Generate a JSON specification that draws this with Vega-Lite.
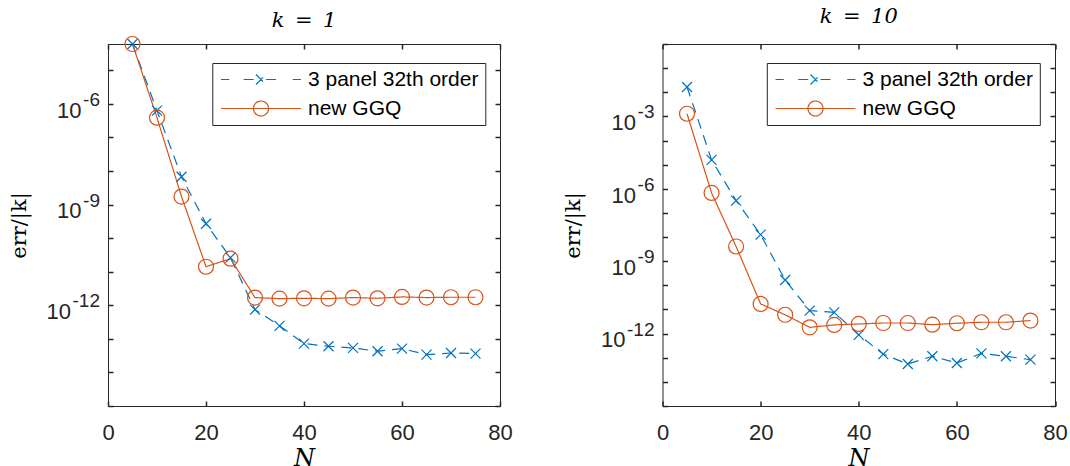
{
  "$schema": "https://vega.github.io/schema/vega-lite/v6.json",
  "background": "white",
  "padding": {"left": 7, "top": 5, "right": 0, "bottom": 0},
  "datasets": {
    "d": [
      {"p": "k1", "s": "3 panel 32th order", "N": 5, "err": 6.1e-5},
      {"p": "k1", "s": "3 panel 32th order", "N": 10, "err": 6.31e-7},
      {"p": "k1", "s": "3 panel 32th order", "N": 15, "err": 6.76e-9},
      {"p": "k1", "s": "3 panel 32th order", "N": 20, "err": 2.69e-10},
      {"p": "k1", "s": "3 panel 32th order", "N": 25, "err": 2.63e-11},
      {"p": "k1", "s": "3 panel 32th order", "N": 30, "err": 7.41e-13},
      {"p": "k1", "s": "3 panel 32th order", "N": 35, "err": 2.45e-13},
      {"p": "k1", "s": "3 panel 32th order", "N": 40, "err": 7.24e-14},
      {"p": "k1", "s": "3 panel 32th order", "N": 45, "err": 6.03e-14},
      {"p": "k1", "s": "3 panel 32th order", "N": 50, "err": 5.37e-14},
      {"p": "k1", "s": "3 panel 32th order", "N": 55, "err": 4.27e-14},
      {"p": "k1", "s": "3 panel 32th order", "N": 60, "err": 5.13e-14},
      {"p": "k1", "s": "3 panel 32th order", "N": 65, "err": 3.39e-14},
      {"p": "k1", "s": "3 panel 32th order", "N": 70, "err": 3.8e-14},
      {"p": "k1", "s": "3 panel 32th order", "N": 75, "err": 3.63e-14},
      {"p": "k1", "s": "new GGQ", "N": 5, "err": 6.1e-5},
      {"p": "k1", "s": "new GGQ", "N": 10, "err": 3.89e-7},
      {"p": "k1", "s": "new GGQ", "N": 15, "err": 1.74e-9},
      {"p": "k1", "s": "new GGQ", "N": 20, "err": 1.41e-11},
      {"p": "k1", "s": "new GGQ", "N": 25, "err": 2.45e-11},
      {"p": "k1", "s": "new GGQ", "N": 30, "err": 1.7e-12},
      {"p": "k1", "s": "new GGQ", "N": 35, "err": 1.58e-12},
      {"p": "k1", "s": "new GGQ", "N": 40, "err": 1.62e-12},
      {"p": "k1", "s": "new GGQ", "N": 45, "err": 1.58e-12},
      {"p": "k1", "s": "new GGQ", "N": 50, "err": 1.7e-12},
      {"p": "k1", "s": "new GGQ", "N": 55, "err": 1.62e-12},
      {"p": "k1", "s": "new GGQ", "N": 60, "err": 1.78e-12},
      {"p": "k1", "s": "new GGQ", "N": 65, "err": 1.7e-12},
      {"p": "k1", "s": "new GGQ", "N": 70, "err": 1.74e-12},
      {"p": "k1", "s": "new GGQ", "N": 75, "err": 1.74e-12},
      {"p": "k10", "s": "3 panel 32th order", "N": 5, "err": 1.66e-2},
      {"p": "k10", "s": "3 panel 32th order", "N": 10, "err": 1.58e-5},
      {"p": "k10", "s": "3 panel 32th order", "N": 15, "err": 3.24e-7},
      {"p": "k10", "s": "3 panel 32th order", "N": 20, "err": 1.26e-8},
      {"p": "k10", "s": "3 panel 32th order", "N": 25, "err": 1.66e-10},
      {"p": "k10", "s": "3 panel 32th order", "N": 30, "err": 8.91e-12},
      {"p": "k10", "s": "3 panel 32th order", "N": 35, "err": 7.59e-12},
      {"p": "k10", "s": "3 panel 32th order", "N": 40, "err": 8.91e-13},
      {"p": "k10", "s": "3 panel 32th order", "N": 45, "err": 1.41e-13},
      {"p": "k10", "s": "3 panel 32th order", "N": 50, "err": 5.5e-14},
      {"p": "k10", "s": "3 panel 32th order", "N": 55, "err": 1.15e-13},
      {"p": "k10", "s": "3 panel 32th order", "N": 60, "err": 6.03e-14},
      {"p": "k10", "s": "3 panel 32th order", "N": 65, "err": 1.51e-13},
      {"p": "k10", "s": "3 panel 32th order", "N": 70, "err": 1.15e-13},
      {"p": "k10", "s": "3 panel 32th order", "N": 75, "err": 8.32e-14},
      {"p": "k10", "s": "new GGQ", "N": 5, "err": 1.29e-3},
      {"p": "k10", "s": "new GGQ", "N": 10, "err": 6.76e-7},
      {"p": "k10", "s": "new GGQ", "N": 15, "err": 4.07e-9},
      {"p": "k10", "s": "new GGQ", "N": 20, "err": 1.7e-11},
      {"p": "k10", "s": "new GGQ", "N": 25, "err": 6.03e-12},
      {"p": "k10", "s": "new GGQ", "N": 30, "err": 1.82e-12},
      {"p": "k10", "s": "new GGQ", "N": 35, "err": 2.29e-12},
      {"p": "k10", "s": "new GGQ", "N": 40, "err": 2.51e-12},
      {"p": "k10", "s": "new GGQ", "N": 45, "err": 2.75e-12},
      {"p": "k10", "s": "new GGQ", "N": 50, "err": 2.75e-12},
      {"p": "k10", "s": "new GGQ", "N": 55, "err": 2.34e-12},
      {"p": "k10", "s": "new GGQ", "N": 60, "err": 2.69e-12},
      {"p": "k10", "s": "new GGQ", "N": 65, "err": 2.95e-12},
      {"p": "k10", "s": "new GGQ", "N": 70, "err": 2.95e-12},
      {"p": "k10", "s": "new GGQ", "N": 75, "err": 3.47e-12}
    ]
  },
  "data": {"name": "d"},
  "spacing": 162.5,
  "bounds": "flush",
  "resolve": {
    "scale": {"color": "independent", "shape": "independent", "strokeDash": "independent"},
    "legend": {"color": "independent", "shape": "independent", "strokeDash": "independent"}
  },
  "hconcat": [
    {
      "width": 392,
      "height": 362,
      "title": {"text": "k\u2002=\u20021", "font": "DejaVu Serif", "fontSize": 21, "fontStyle": "italic", "fontWeight": "normal", "color": "#000000", "anchor": "middle", "frame": "group", "baseline": "alphabetic", "offset": -13.6},
      "transform": [{"filter": "datum.p == 'k1'"}],
      "layer": [
        {
          "mark": {"type": "line", "strokeWidth": 1.2},
          "encoding": {
            "x": {"field": "N", "type": "quantitative", "scale": {"domain": [0, 80], "nice": false, "zero": false},
              "axis": {"orient": "bottom", "zindex": 1, "values": [0, 20, 40, 60, 80], "ticks": false, "domain": false, "grid": true, "gridDash": [5, 2000], "gridColor": "#262626", "gridWidth": 1.5, "gridOpacity": 1, "labelFont": "Liberation Sans", "labelFontSize": 22, "labelColor": "#262626", "labelPadding": 16, "labelFlush": false, "labelOverlap": false, "labelBaseline": "top", "title": "N", "titleFont": "DejaVu Serif", "titleFontStyle": "italic", "titleFontWeight": "normal", "titleFontSize": 24, "titleColor": "#000000", "titleX": 196, "titleY": 59.6, "titleAlign": "center", "titleBaseline": "alphabetic", "titleAngle": 0}},
            "y": {"field": "err", "type": "quantitative", "scale": {"type": "log", "domain": [1e-15, 6.1e-5], "nice": false},
              "axis": {"orient": "left", "zindex": 1, "values": [1e-15, 1e-14, 1e-13, 1e-12, 1e-11, 1e-10, 1e-9, 1e-8, 1e-7, 1e-6, 1e-5], "ticks": false, "domain": false, "grid": true, "gridDash": [5, 2000], "gridColor": "#262626", "gridWidth": 1.5, "gridOpacity": 1,
                "labelExpr": "(datum.value > 1e-11 && datum.value < 1e-5 && round(log(datum.value)/LN10) % 3 == 0) ? '10' : ''",
                "labelFont": "Liberation Sans", "labelFontSize": 22, "labelColor": "#262626", "labelAlign": "right", "labelBaseline": "alphabetic", "labelOffset": 13.3, "labelPadding": 26.9, "labelOverlap": false, "labelFlush": false,
                "title": "err/|k|", "titleFont": "DejaVu Serif", "titleFontWeight": "normal", "titleFontSize": 21, "titleColor": "#000000", "titleX": -89, "titleY": 181, "titleAngle": -90, "titleAlign": "center", "titleBaseline": "middle"}},
            "color": {"field": "s", "type": "nominal", "scale": {"domain": ["3 panel 32th order", "new GGQ"], "range": ["#0072BD", "#D95319"]}},
            "strokeDash": {"field": "s", "type": "nominal", "scale": {"domain": ["3 panel 32th order", "new GGQ"], "range": [[10, 7], [1, 0]]}, "legend": null}
          }
        },
        {
          "transform": [{"filter": "datum.s == '3 panel 32th order'"}],
          "mark": {"type": "point", "shape": "M-1,-1L1,1M-1,1L1,-1", "size": 100, "filled": false, "strokeWidth": 1.2, "opacity": 1, "color": "#0072BD"},
          "encoding": {
            "x": {"field": "N", "type": "quantitative", "axis": null},
            "y": {"field": "err", "type": "quantitative",
              "axis": {"orient": "left", "values": [1e-15, 1e-14, 1e-13, 1e-12, 1e-11, 1e-10, 1e-9, 1e-8, 1e-7, 1e-6, 1e-5], "ticks": false, "domain": false, "grid": false,
                "labelExpr": "(datum.value > 1e-13 && datum.value < 1e-5 && round(log(datum.value)/LN10) % 3 == 0) ? '-' + (-round(log(datum.value)/LN10)) : ''",
                "labelFont": "Liberation Sans", "labelFontSize": 19, "labelColor": "#262626", "labelAlign": "right", "labelBaseline": "alphabetic", "labelOffset": 1.5, "labelPadding": 8.5, "labelOverlap": false, "labelFlush": false, "title": null}}
          }
        },
        {
          "transform": [{"filter": "datum.s == 'new GGQ'"}],
          "mark": {"type": "point", "shape": "circle", "size": 225, "filled": false, "strokeWidth": 1.2, "opacity": 1, "color": "#D95319"},
          "encoding": {
            "x": {"field": "N", "type": "quantitative", "axis": null},
            "y": {"field": "err", "type": "quantitative",
              "axis": {"orient": "left", "values": [1e-12], "ticks": false, "domain": false, "grid": false, "labelExpr": "'10'",
                "labelFont": "Liberation Sans", "labelFontSize": 22, "labelColor": "#262626", "labelAlign": "right", "labelBaseline": "alphabetic", "labelOffset": 13.3, "labelPadding": 37.4, "labelOverlap": false, "labelFlush": false, "title": null}}
          }
        },
        {
          "transform": [{"filter": "datum.N < 0"}],
          "mark": {"type": "point", "filled": false, "opacity": 1, "strokeWidth": 1.2},
          "encoding": {
            "x": {"field": "N", "type": "quantitative", "axis": {"orient": "top", "zindex": 1, "values": [0, 20, 40, 60, 80], "ticks": false, "labels": false, "domain": false, "grid": true, "gridDash": [5, 2000], "gridColor": "#262626", "gridWidth": 1.5, "gridOpacity": 1, "title": null}},
            "y": {"field": "err", "type": "quantitative", "axis": {"orient": "right", "zindex": 1, "values": [1e-15, 1e-14, 1e-13, 1e-12, 1e-11, 1e-10, 1e-9, 1e-8, 1e-7, 1e-6, 1e-5], "ticks": false, "labels": false, "domain": false, "grid": true, "gridDash": [5, 2000], "gridColor": "#262626", "gridWidth": 1.5, "gridOpacity": 1, "title": null}},
            "color": {"field": "s", "type": "nominal",
              "legend": {"orient": "none", "legendX": 104.3, "legendY": 19, "title": null, "padding": 6, "strokeColor": "#262626", "fillColor": "white", "cornerRadius": 0,
                "labelFont": "Liberation Sans", "labelFontSize": 21, "labelColor": "#000000", "labelOffset": 36.5, "labelLimit": 400,
                "symbolSize": 225, "symbolOffset": 32.2, "rowPadding": 7, "symbolStrokeWidth": 1.2, "symbolOpacity": 1, "symbolFillColor": "transparent"}},
            "shape": {"field": "s", "type": "nominal",
              "scale": {"domain": ["3 panel 32th order", "new GGQ"], "range": ["M-5.33,0H-4.23M-2.31,0H-0.667M0.667,0H2.31M4.23,0H5.33M-0.667,-0.667L0.667,0.667M-0.667,0.667L0.667,-0.667", "M-5.33,0H5.33M1,0A1,1,0,1,1,-1,0A1,1,0,1,1,1,0"]},
              "legend": {"orient": "none", "legendX": 104.3, "legendY": 19, "title": null, "padding": 6, "strokeColor": "#262626", "fillColor": "white", "cornerRadius": 0,
                "labelFont": "Liberation Sans", "labelFontSize": 21, "labelColor": "#000000", "labelOffset": 36.5, "labelLimit": 400,
                "symbolSize": 225, "symbolOffset": 32.2, "rowPadding": 7, "symbolStrokeWidth": 1.2, "symbolOpacity": 1, "symbolFillColor": "transparent"}}
          }
        }
      ],
      "resolve": {"axis": {"x": "independent", "y": "independent"}}
    },
    {
      "width": 392.5,
      "height": 362,
      "title": {"text": "k\u2002=\u200210", "font": "DejaVu Serif", "fontSize": 21, "fontStyle": "italic", "fontWeight": "normal", "color": "#000000", "anchor": "middle", "frame": "group", "baseline": "alphabetic", "offset": -13.6},
      "transform": [{"filter": "datum.p == 'k10'"}],
      "layer": [
        {
          "mark": {"type": "line", "strokeWidth": 1.2},
          "encoding": {
            "x": {"field": "N", "type": "quantitative", "scale": {"domain": [0, 80], "nice": false, "zero": false},
              "axis": {"orient": "bottom", "zindex": 1, "values": [0, 20, 40, 60, 80], "ticks": false, "domain": false, "grid": true, "gridDash": [5, 2000], "gridColor": "#262626", "gridWidth": 1.5, "gridOpacity": 1, "labelFont": "Liberation Sans", "labelFontSize": 22, "labelColor": "#262626", "labelPadding": 16, "labelFlush": false, "labelOverlap": false, "labelBaseline": "top", "title": "N", "titleFont": "DejaVu Serif", "titleFontStyle": "italic", "titleFontWeight": "normal", "titleFontSize": 24, "titleColor": "#000000", "titleX": 196, "titleY": 59.6, "titleAlign": "center", "titleBaseline": "alphabetic", "titleAngle": 0}},
            "y": {"field": "err", "type": "quantitative", "scale": {"type": "log", "domain": [1e-15, 1], "nice": false},
              "axis": {"orient": "left", "zindex": 1, "values": [1e-15, 1e-14, 1e-13, 1e-12, 1e-11, 1e-10, 1e-9, 1e-8, 1e-7, 1e-6, 1e-5, 1e-4, 1e-3, 1e-2, 1e-1, 1], "ticks": false, "domain": false, "grid": true, "gridDash": [5, 2000], "gridColor": "#262626", "gridWidth": 1.5, "gridOpacity": 1,
                "labelExpr": "(datum.value > 1e-11 && datum.value < 1e-2 && round(log(datum.value)/LN10) % 3 == 0) ? '10' : ''",
                "labelFont": "Liberation Sans", "labelFontSize": 22, "labelColor": "#262626", "labelAlign": "right", "labelBaseline": "alphabetic", "labelOffset": 13.3, "labelPadding": 26.9, "labelOverlap": false, "labelFlush": false,
                "title": "err/|k|", "titleFont": "DejaVu Serif", "titleFontWeight": "normal", "titleFontSize": 21, "titleColor": "#000000", "titleX": -89, "titleY": 181, "titleAngle": -90, "titleAlign": "center", "titleBaseline": "middle"}},
            "color": {"field": "s", "type": "nominal", "scale": {"domain": ["3 panel 32th order", "new GGQ"], "range": ["#0072BD", "#D95319"]}},
            "strokeDash": {"field": "s", "type": "nominal", "scale": {"domain": ["3 panel 32th order", "new GGQ"], "range": [[10, 7], [1, 0]]}, "legend": null}
          }
        },
        {
          "transform": [{"filter": "datum.s == '3 panel 32th order'"}],
          "mark": {"type": "point", "shape": "M-1,-1L1,1M-1,1L1,-1", "size": 100, "filled": false, "strokeWidth": 1.2, "opacity": 1, "color": "#0072BD"},
          "encoding": {
            "x": {"field": "N", "type": "quantitative", "axis": null},
            "y": {"field": "err", "type": "quantitative",
              "axis": {"orient": "left", "values": [1e-15, 1e-14, 1e-13, 1e-12, 1e-11, 1e-10, 1e-9, 1e-8, 1e-7, 1e-6, 1e-5, 1e-4, 1e-3, 1e-2, 1e-1, 1], "ticks": false, "domain": false, "grid": false,
                "labelExpr": "(datum.value > 1e-13 && datum.value < 1e-2 && round(log(datum.value)/LN10) % 3 == 0) ? '-' + (-round(log(datum.value)/LN10)) : ''",
                "labelFont": "Liberation Sans", "labelFontSize": 19, "labelColor": "#262626", "labelAlign": "right", "labelBaseline": "alphabetic", "labelOffset": 1.5, "labelPadding": 8.5, "labelOverlap": false, "labelFlush": false, "title": null}}
          }
        },
        {
          "transform": [{"filter": "datum.s == 'new GGQ'"}],
          "mark": {"type": "point", "shape": "circle", "size": 225, "filled": false, "strokeWidth": 1.2, "opacity": 1, "color": "#D95319"},
          "encoding": {
            "x": {"field": "N", "type": "quantitative", "axis": null},
            "y": {"field": "err", "type": "quantitative",
              "axis": {"orient": "left", "values": [1e-12], "ticks": false, "domain": false, "grid": false, "labelExpr": "'10'",
                "labelFont": "Liberation Sans", "labelFontSize": 22, "labelColor": "#262626", "labelAlign": "right", "labelBaseline": "alphabetic", "labelOffset": 13.3, "labelPadding": 37.4, "labelOverlap": false, "labelFlush": false, "title": null}}
          }
        },
        {
          "transform": [{"filter": "datum.N < 0"}],
          "mark": {"type": "point", "filled": false, "opacity": 1, "strokeWidth": 1.2},
          "encoding": {
            "x": {"field": "N", "type": "quantitative", "axis": {"orient": "top", "zindex": 1, "values": [0, 20, 40, 60, 80], "ticks": false, "labels": false, "domain": false, "grid": true, "gridDash": [5, 2000], "gridColor": "#262626", "gridWidth": 1.5, "gridOpacity": 1, "title": null}},
            "y": {"field": "err", "type": "quantitative", "axis": {"orient": "right", "zindex": 1, "values": [1e-15, 1e-14, 1e-13, 1e-12, 1e-11, 1e-10, 1e-9, 1e-8, 1e-7, 1e-6, 1e-5, 1e-4, 1e-3, 1e-2, 1e-1, 1], "ticks": false, "labels": false, "domain": false, "grid": true, "gridDash": [5, 2000], "gridColor": "#262626", "gridWidth": 1.5, "gridOpacity": 1, "title": null}},
            "color": {"field": "s", "type": "nominal",
              "legend": {"orient": "none", "legendX": 104.3, "legendY": 19, "title": null, "padding": 6, "strokeColor": "#262626", "fillColor": "white", "cornerRadius": 0,
                "labelFont": "Liberation Sans", "labelFontSize": 21, "labelColor": "#000000", "labelOffset": 36.5, "labelLimit": 400,
                "symbolSize": 225, "symbolOffset": 32.2, "rowPadding": 7, "symbolStrokeWidth": 1.2, "symbolOpacity": 1, "symbolFillColor": "transparent"}},
            "shape": {"field": "s", "type": "nominal",
              "scale": {"domain": ["3 panel 32th order", "new GGQ"], "range": ["M-5.33,0H-4.23M-2.31,0H-0.667M0.667,0H2.31M4.23,0H5.33M-0.667,-0.667L0.667,0.667M-0.667,0.667L0.667,-0.667", "M-5.33,0H5.33M1,0A1,1,0,1,1,-1,0A1,1,0,1,1,1,0"]},
              "legend": {"orient": "none", "legendX": 104.3, "legendY": 19, "title": null, "padding": 6, "strokeColor": "#262626", "fillColor": "white", "cornerRadius": 0,
                "labelFont": "Liberation Sans", "labelFontSize": 21, "labelColor": "#000000", "labelOffset": 36.5, "labelLimit": 400,
                "symbolSize": 225, "symbolOffset": 32.2, "rowPadding": 7, "symbolStrokeWidth": 1.2, "symbolOpacity": 1, "symbolFillColor": "transparent"}}
          }
        }
      ],
      "resolve": {"axis": {"x": "independent", "y": "independent"}}
    }
  ],
  "config": {
    "view": {"stroke": "#262626", "strokeWidth": 1}
  }
}
